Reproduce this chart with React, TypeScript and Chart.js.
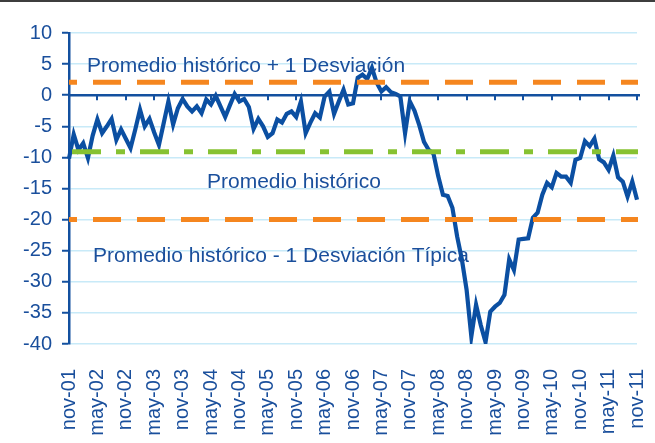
import React, { useEffect, useRef } from 'react';
import { Chart, registerables } from 'chart.js';

Chart.register(...registerables);

// ---- data ----
const MONTHS = ['ene', 'feb', 'mar', 'abr', 'may', 'jun', 'jul', 'ago', 'sep', 'oct', 'nov', 'dic'];
const categories: string[] = [];
for (let k = 0; k <= 120; k++) {
  const m = (10 + k) % 12;
  const yr = 1 + Math.floor((10 + k) / 12);
  categories.push(`${MONTHS[m]}-${String(yr).padStart(2, '0')}`);
}

const indicator: number[] = [
  -10.2, -6.3, -8.8, -7.7, -10.1, -6.5, -3.9, -6.1, -5.0, -3.8,
  -7.2, -5.5, -7.0, -8.5, -5.5, -2.3, -5.0, -3.8, -6.0, -8.0,
  -4.5, -1.0, -4.7, -2.1, -0.6, -1.8, -2.6, -1.8, -2.9, -0.7,
  -1.5, -0.1, -1.8, -3.5, -1.6, 0.2, -1.0, -0.6, -1.9, -5.4,
  -3.8, -5.0, -6.7, -6.1, -3.9, -4.4, -3.0, -2.6, -3.5, -1.0,
  -6.1, -4.4, -2.9, -3.6, -0.2, 0.6, -3.0, -1.0, 0.9, -1.5,
  -1.3, 2.8, 3.3, 2.6, 4.4, 2.0, 0.6, 1.3, 0.5, 0.2,
  -0.2, -6.1, -1.0, -2.5, -4.8, -7.5, -8.8, -9.4, -13.0, -16.0,
  -16.2, -18.1, -22.7, -26.4, -31.3, -38.8, -33.7, -37.0, -39.7, -34.8,
  -34.0, -33.4, -32.1, -26.4, -28.1, -23.2, -23.1, -23.0, -19.7, -18.9,
  -16.0, -14.1, -14.8, -12.5, -13.1, -13.1, -14.1, -10.4, -10.1, -7.4,
  -8.2, -7.0, -10.3, -10.8, -12.0, -9.7, -13.2, -13.9, -16.3, -13.9,
  -16.8,
];

const upperBand = 2.1;
const meanLine = -9.1;
const lowerBand = -20;

const labelUpper = 'Promedio histórico + 1 Desviación';
const labelMean = 'Promedio histórico';
const labelLower = 'Promedio histórico - 1 Desviación Típica';

const yTicks = { min: -40, max: 10, step: 5 };
const tickEvery = 6;

// ---- styles ----
const FONT = '"Liberation Sans", Arial, sans-serif';
const TEXT = '#1A4F9C';
const AXIS = '#13509F';
const LINE = '#0B4FA2';
const GRID = '#C8EAF8';
const ORANGE = '#F5861F';
const GREEN = '#86C232';

const overlay = {
  id: 'overlay',
  afterDatasetsDraw(chart: any) {
    const { ctx, chartArea: ca, scales } = chart;
    const x = scales.x;
    const y = scales.y;
    ctx.save();
    // zero axis
    const y0 = y.getPixelForValue(0);
    ctx.strokeStyle = AXIS;
    ctx.lineWidth = 2.5;
    ctx.beginPath();
    ctx.moveTo(ca.left, y0);
    ctx.lineTo(ca.right + 3, y0);
    ctx.stroke();
    ctx.lineWidth = 2;
    ctx.beginPath();
    for (let i = tickEvery; i < categories.length; i += tickEvery) {
      const px = Math.round(x.getPixelForValue(i));
      ctx.moveTo(px, y0);
      ctx.lineTo(px, y0 + 5);
    }
    ctx.stroke();

    // reference lines
    const hline = (v: number, color: string, dash: number[], offset: number) => {
      const py = y.getPixelForValue(v);
      ctx.strokeStyle = color;
      ctx.lineWidth = 5;
      ctx.setLineDash(dash);
      ctx.lineDashOffset = offset;
      ctx.beginPath();
      ctx.moveTo(ca.left, py);
      ctx.lineTo(ca.right + 1, py);
      ctx.stroke();
    };
    hline(upperBand, ORANGE, [28, 16], 20);
    hline(lowerBand, ORANGE, [28, 16], 20);
    hline(meanLine, GREEN, [29, 15, 9, 15], 65);
    ctx.setLineDash([]);

    // annotations
    ctx.fillStyle = TEXT;
    ctx.font = `21px ${FONT}`;
    ctx.textAlign = 'left';
    ctx.textBaseline = 'alphabetic';
    ctx.fillText(labelUpper, ca.left + 18, 71.5);
    ctx.fillText(labelMean, ca.left + 138, 188);
    ctx.fillText(labelLower, ca.left + 24, 262);
    ctx.restore();
  },
  afterDraw(chart: any) {
    const { ctx, width } = chart;
    ctx.save();
    ctx.fillStyle = '#3E3E3E';
    ctx.fillRect(0, 0, width, 2);
    ctx.restore();
  },
};

export default function App() {
  const ref = useRef<HTMLCanvasElement>(null);
  useEffect(() => {
    if (!ref.current) return;
    const chart = new Chart(ref.current, {
      type: 'line',
      data: {
        labels: categories,
        datasets: [
          {
            data: indicator,
            borderColor: LINE,
            borderWidth: 4.2,
            pointRadius: 0,
            tension: 0,
            fill: false,
          },
        ],
      },
      options: {
        animation: false,
        responsive: false,
        devicePixelRatio: 1,
        layout: { padding: { top: 33, right: 18, bottom: 0, left: 0 } },
        plugins: { legend: { display: false }, tooltip: { enabled: false } },
        scales: {
          x: {
            offset: false,
            grid: { display: false, drawTicks: false },
            border: { display: false },
            ticks: {
              autoSkip: false,
              maxRotation: 90,
              minRotation: 90,
              padding: 25,
              color: TEXT,
              font: { size: 20, family: FONT },
              callback: (_v: any, idx: number) => (idx % tickEvery === 0 ? categories[idx] : ''),
            },
            afterFit: (s: any) => {
              s.height = 99;
              s.paddingLeft = 0;
              s.paddingRight = 0;
            },
          },
          y: {
            min: yTicks.min,
            max: yTicks.max,
            grid: { color: GRID, lineWidth: 1.5, tickColor: AXIS, tickLength: 7, tickWidth: 2 },
            border: { display: true, color: AXIS, width: 2.5 },
            ticks: {
              stepSize: yTicks.step,
              padding: 10,
              color: TEXT,
              font: { size: 20, family: FONT },
            },
            afterFit: (s: any) => {
              s.width = 69;
            },
          },
        },
      },
      plugins: [overlay],
    });
    return () => chart.destroy();
  }, []);
  return (
    <div style={{ position: 'fixed', top: 0, left: 0, width: 655, height: 443, background: '#fff' }}>
      <canvas ref={ref} width={655} height={443} style={{ display: 'block' }} />
    </div>
  );
}
